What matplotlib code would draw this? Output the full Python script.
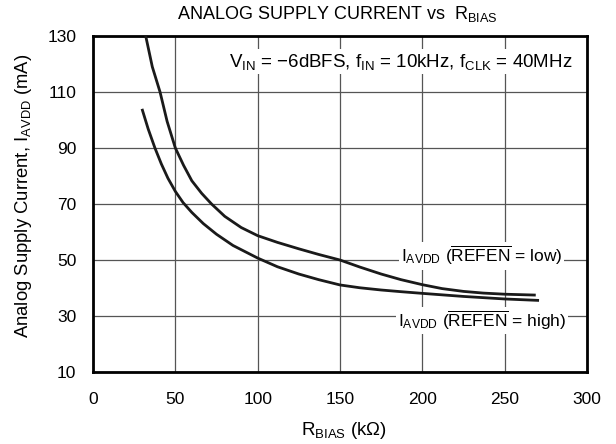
import matplotlib
matplotlib.use("Agg")
import matplotlib.pyplot as plt

plt.rcParams["font.family"] = ["Liberation Sans", "DejaVu Sans"]
plt.rcParams["mathtext.fontset"] = "custom"
plt.rcParams["mathtext.rm"] = "Liberation Sans"
plt.rcParams["mathtext.it"] = "Liberation Sans"
plt.rcParams["mathtext.default"] = "regular"

# I_AVDD with REFEN = low (upper curve)
r_low = [32, 36, 40.7, 45, 50, 55, 60, 66, 72, 80, 90, 100, 112, 125, 137,
         150, 162, 175, 187, 200, 212, 225, 237, 250, 268]
i_low = [130, 119, 110, 99.5, 90, 83.8, 78.3, 73.8, 70, 65.6, 61.6, 58.7,
         56.3, 54, 52, 50, 47.5, 45, 43, 41.2, 39.8, 38.8, 38.2, 37.8, 37.5]

# I_AVDD with REFEN = high (lower curve)
r_high = [30, 33.5, 37.6, 41.5, 45.5, 50, 54.7, 60, 67, 75, 85, 100, 112,
          125, 137, 150, 162, 175, 187, 200, 225, 250, 270]
i_high = [103.5, 96.8, 90, 84.3, 79.2, 74.5, 70.5, 67, 63, 59.2, 55.2, 50.7,
          47.6, 45, 43, 41.1, 40.1, 39.3, 38.7, 38.1, 37, 36.1, 35.6]

x_ticks = [0, 50, 100, 150, 200, 250, 300]
y_ticks = [10, 30, 50, 70, 90, 110, 130]

fig = plt.figure(figsize=(6.16, 4.44), dpi=100)
ax = fig.add_axes([0.151, 0.162, 0.802, 0.757])

ax.plot(r_low, i_low, color="#1a1a1a", lw=2.0, zorder=3)
ax.plot(r_high, i_high, color="#1a1a1a", lw=2.0, zorder=3)

ax.set_xlim(0, 300)
ax.set_ylim(10, 130)
ax.set_xticks(x_ticks)
ax.set_yticks(y_ticks)
ax.tick_params(length=0, labelsize=12.5)
ax.tick_params(axis="x", pad=14)
ax.tick_params(axis="y", pad=12)
ax.grid(True, color="#555555", lw=0.9)
ax.set_axisbelow(True)
for s in ax.spines.values():
    s.set_linewidth(2.0)

ax.set_xlabel(r"R$_{\mathregular{BIAS}}$ (k$\Omega$)", fontsize=13.5)
ax.xaxis.set_label_coords(0.509, -0.143)
ax.set_ylabel(r"Analog Supply Current, I$_{\mathregular{AVDD}}$ (mA)", fontsize=13.3)
ax.yaxis.set_label_coords(-0.12, 0.525)
fig.text(0.547, 0.968, r"ANALOG SUPPLY CURRENT $\mathregular{vs}$  R$_{\mathregular{BIAS}}$",
         ha="center", va="center", fontsize=13)

box = dict(facecolor="white", edgecolor="none", pad=1.5)
ax.text(0.97, 0.924, r"V$_{\mathregular{IN}}$ = $-$6dBFS, f$_{\mathregular{IN}}$ = 10kHz, f$_{\mathregular{CLK}}$ = 40MHz",
        transform=ax.transAxes, ha="right", va="center", fontsize=13.5, bbox=box, zorder=4)
ax.text(236, 51.5, r"I$_{\mathregular{AVDD}}$ ($\overline{\mathregular{REFEN}}$ = low)",
        ha="center", va="center", fontsize=12.5, bbox=box, zorder=4)
ax.text(236, 28.5, r"I$_{\mathregular{AVDD}}$ ($\overline{\mathregular{REFEN}}$ = high)",
        ha="center", va="center", fontsize=12.5, bbox=box, zorder=4)

fig.savefig("out.png", dpi=100)
